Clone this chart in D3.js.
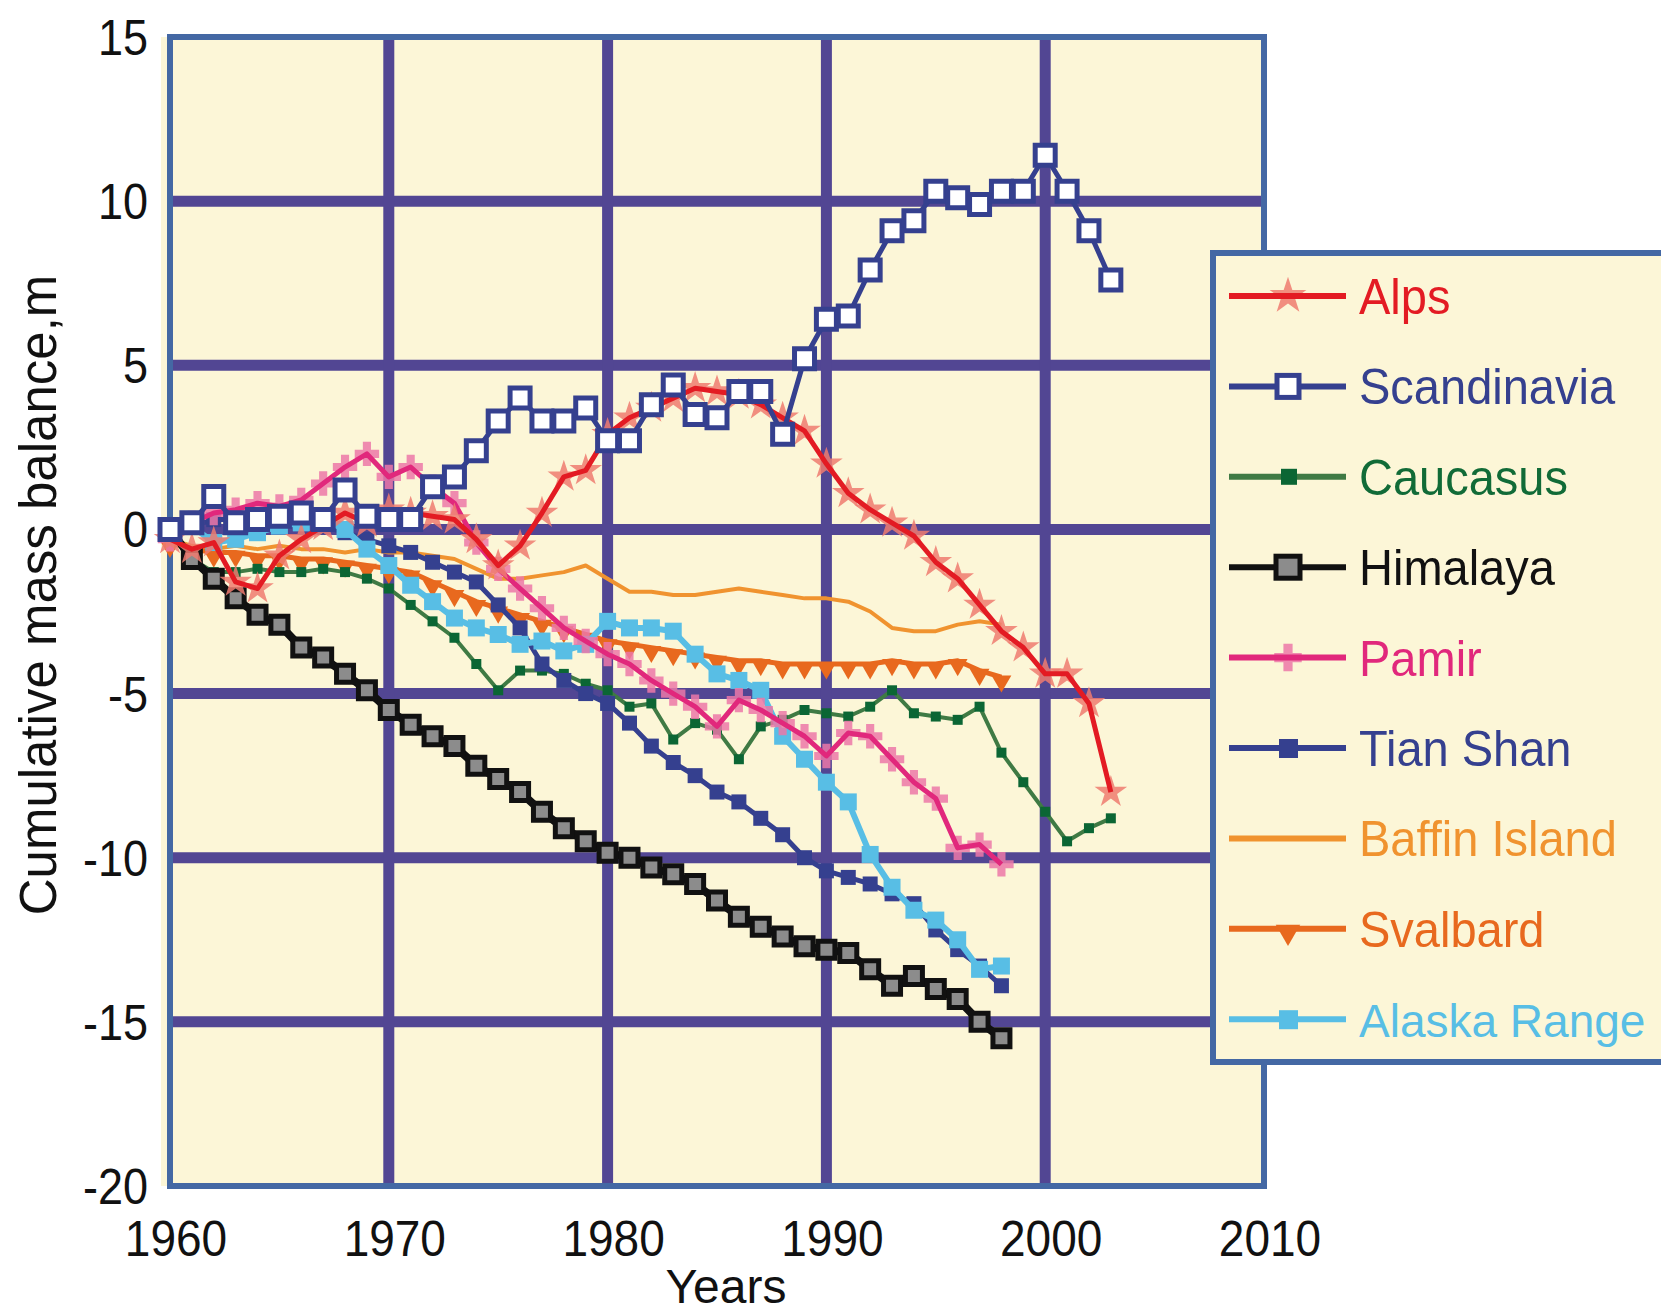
<!DOCTYPE html>
<html>
<head>
<meta charset="utf-8">
<script src="https://cdn.jsdelivr.net/npm/d3@7"></script>
<style>
  html, body { margin: 0; padding: 0; background: #ffffff; }
  svg { display: block; }
  text { font-family: "Liberation Sans", Arial, "DejaVu Sans", sans-serif; }
</style>
</head>
<body>
<svg id="chart" width="1661" height="1316"></svg>
<script>
// ---- data -------------------------------------------------------------
const years = [1960, 1961, 1962, 1963, 1964, 1965, 1966, 1967, 1968, 1969,
               1970, 1971, 1972, 1973, 1974, 1975, 1976, 1977, 1978, 1979,
               1980, 1981, 1982, 1983, 1984, 1985, 1986, 1987, 1988, 1989,
               1990, 1991, 1992, 1993, 1994, 1995, 1996, 1997, 1998, 1999,
               2000, 2001, 2002, 2003];

const xTickValues = [1960, 1970, 1980, 1990, 2000, 2010];
const yTickValues = [-20, -15, -10, -5, 0, 5, 10, 15];

const seriesNames = ["Alps", "Scandinavia", "Caucasus", "Himalaya", "Pamir",
                     "Tian Shan", "Baffin Island", "Svalbard", "Alaska Range"];

// cumulative mass balance, m (1960 onward, one value per year)
const alps = [-0.3, -0.6, -0.4, -1.6, -1.8, -0.8, -0.3, 0.1, 0.5, 0.2,
              0.6, 0.5, 0.4, 0.3, -0.3, -1.1, -0.5, 0.5, 1.6, 1.8,
              2.9, 3.4, 3.7, 4.0, 4.3, 4.2, 4.1, 3.8, 3.4, 3.0,
              2.0, 1.1, 0.6, 0.2, -0.2, -1.0, -1.5, -2.3, -3.1, -3.6,
              -4.4, -4.4, -5.3, -8.0];
const scandinavia = [0.0, 0.2, 1.0, 0.2, 0.3, 0.4, 0.5, 0.3, 1.2, 0.4,
                     0.3, 0.3, 1.3, 1.6, 2.4, 3.3, 4.0, 3.3, 3.3, 3.7,
                     2.7, 2.7, 3.8, 4.4, 3.5, 3.4, 4.2, 4.2, 2.9, 5.2,
                     6.4, 6.5, 7.9, 9.1, 9.4, 10.3, 10.1, 9.9, 10.3, 10.3,
                     11.4, 10.3, 9.1, 7.6];
const caucasus = [0.2, -0.9, -1.3, -1.3, -1.2, -1.3, -1.3, -1.2, -1.3, -1.5,
                  -1.8, -2.3, -2.8, -3.3, -4.1, -4.9, -4.3, -4.3, -4.4, -4.7,
                  -4.9, -5.4, -5.3, -6.4, -5.9, -6.1, -7.0, -6.0, -5.8, -5.5,
                  -5.6, -5.7, -5.4, -4.9, -5.6, -5.7, -5.8, -5.4, -6.8, -7.7,
                  -8.6, -9.5, -9.1, -8.8];
const himalaya = [0.0, -0.9, -1.5, -2.1, -2.6, -2.9, -3.6, -3.9, -4.4, -4.9,
                  -5.5, -5.95, -6.3, -6.6, -7.2, -7.6, -8.0, -8.6, -9.1, -9.5,
                  -9.85, -10.0, -10.3, -10.5, -10.8, -11.3, -11.8, -12.1, -12.4, -12.7,
                  -12.8, -12.9, -13.4, -13.9, -13.6, -14.0, -14.3, -15.0, -15.5];
const pamir = [-0.3, 0.2, 0.5, 0.6, 0.8, 0.7, 0.9, 1.4, 1.9, 2.3,
               1.6, 1.9, 1.3, 0.8, -0.4, -1.2, -1.8, -2.4, -3.0, -3.4,
               -3.8, -4.1, -4.6, -5.0, -5.4, -6.0, -5.2, -5.5, -5.9, -6.3,
               -6.9, -6.2, -6.3, -7.0, -7.7, -8.2, -9.7, -9.6, -10.2];
const tianShan = [0.0, 0.1, 0.3, 0.3, 0.4, 0.3, 0.4, 0.1, -0.1, -0.3,
                  -0.5, -0.7, -1.0, -1.3, -1.6, -2.3, -3.0, -4.1, -4.6, -5.0,
                  -5.3, -5.9, -6.6, -7.1, -7.5, -8.0, -8.3, -8.8, -9.3, -10.0,
                  -10.4, -10.6, -10.8, -11.1, -11.4, -12.2, -12.8, -13.3, -13.9];
const baffinIsland = [-0.3, -0.5, -0.6, -0.5, -0.6, -0.5, -0.6, -0.6, -0.7, -0.6,
                      -0.7, -0.7, -0.8, -0.9, -1.2, -1.5, -1.5, -1.4, -1.3, -1.1,
                      -1.5, -1.9, -1.9, -2.0, -2.0, -1.9, -1.8, -1.9, -2.0, -2.1,
                      -2.1, -2.2, -2.5, -3.0, -3.1, -3.1, -2.9, -2.8, -2.9];
const svalbard = [-0.4, -0.6, -0.7, -0.7, -0.8, -0.8, -0.9, -0.9, -1.0, -1.1,
                  -1.2, -1.3, -1.6, -1.9, -2.2, -2.4, -2.6, -2.8, -3.0, -3.2,
                  -3.4, -3.5, -3.6, -3.7, -3.8, -3.9, -4.0, -4.0, -4.1, -4.1,
                  -4.1, -4.1, -4.1, -4.0, -4.1, -4.1, -4.0, -4.3, -4.5];
const alaskaRange = [0.0, 0.1, -0.4, -0.3, -0.1, 0.1, 0.2, 0.3, 0.0, -0.6,
                     -1.1, -1.7, -2.2, -2.7, -3.0, -3.2, -3.5, -3.4, -3.7, -3.5,
                     -2.8, -3.0, -3.0, -3.1, -3.8, -4.4, -4.6, -4.9, -6.3, -7.0,
                     -7.7, -8.3, -9.9, -10.9, -11.6, -11.9, -12.5, -13.4, -13.3];

// ---- appearance --------------------------------------------------------
const COLORS = {
  page: "#ffffff", plotBg: "#fcf6d7", grid: "#524693", frame: "#4468a4",
  alps: "#e31b23", alpsMark: "#ef7b70",
  scand: "#35408f",
  cauc: "#3f7a44", caucMark: "#0b6634", caucText: "#116b37",
  him: "#111111", himMark: "#8c8c8c",
  pamir: "#e1287c", pamirMark: "#ec78a8",
  tian: "#35408f",
  baffin: "#f0932f",
  sval: "#e8691e",
  alaska: "#58bee5"
};

const plot = { left: 170, right: 1264, top: 37, bottom: 1186 };
const x = d3.scaleLinear().domain([1960, 2010]).range([plot.left, plot.right]);
const y = d3.scaleLinear().domain([-20, 15]).range([plot.bottom, plot.top]);

const svg = d3.select("#chart");

// squeeze a text element horizontally to imitate a condensed face
function condense(sel, factor) {
  sel.each(function () {
    const w = this.getComputedTextLength();
    d3.select(this).attr("textLength", w * factor).attr("lengthAdjust", "spacingAndGlyphs");
  });
}

// ---- plot area ---------------------------------------------------------
svg.append("rect")
  .attr("x", plot.left - 9).attr("y", plot.top)
  .attr("width", plot.right - plot.left + 9).attr("height", plot.bottom - plot.top)
  .attr("fill", COLORS.plotBg);

const grid = svg.append("g").attr("stroke", COLORS.grid).attr("stroke-width", 11);
grid.selectAll("line.h")
  .data(yTickValues.filter(v => v > -20 && v < 15))
  .join("line").attr("class", "h")
  .attr("x1", plot.left).attr("x2", plot.right)
  .attr("y1", d => y(d)).attr("y2", d => y(d));
grid.selectAll("line.v")
  .data(xTickValues.filter(v => v > 1960 && v < 2010))
  .join("line").attr("class", "v")
  .attr("y1", plot.top).attr("y2", plot.bottom)
  .attr("x1", d => x(d)).attr("x2", d => x(d));

svg.append("rect")
  .attr("x", plot.left).attr("y", plot.top)
  .attr("width", plot.right - plot.left).attr("height", plot.bottom - plot.top)
  .attr("fill", "none").attr("stroke", COLORS.frame).attr("stroke-width", 6);

// ---- axes labels -------------------------------------------------------
const yLab = svg.append("g").selectAll("text").data(yTickValues).join("text")
  .attr("x", 148).attr("y", d => y(d) + 18)
  .attr("text-anchor", "end").attr("font-size", 50).attr("fill", "#111")
  .text(d => d);
condense(yLab, 0.9);

const xLab = svg.append("g").selectAll("text").data(xTickValues).join("text")
  .attr("x", d => x(d) + 6).attr("y", 1256)
  .attr("text-anchor", "middle").attr("font-size", 50).attr("fill", "#111")
  .text(d => d);
condense(xLab, 0.92);

svg.append("text")
  .attr("x", 726).attr("y", 1303)
  .attr("text-anchor", "middle").attr("font-size", 48).attr("fill", "#111")
  .text("Years");

svg.append("text")
  .attr("transform", "translate(56,595) rotate(-90)")
  .attr("text-anchor", "middle").attr("font-size", 51).attr("fill", "#111")
  .text("Cumulative mass balance,m");

// ---- series ------------------------------------------------------------
const sq = s => d3.symbol().type(d3.symbolSquare).size(s * s)();
const series = [
  { name: seriesNames[6], values: baffinIsland, color: COLORS.baffin, width: 4, mark: null },
  { name: seriesNames[7], values: svalbard, color: COLORS.sval, width: 5,
    mark: { path: d3.symbol().type(d3.symbolTriangle).size(170)(), rotate: 180, fill: COLORS.sval, dy: 4 } },
  { name: seriesNames[2], values: caucasus, color: COLORS.cauc, width: 4,
    mark: { path: sq(10), fill: COLORS.caucMark } },
  { name: seriesNames[5], values: tianShan, color: COLORS.tian, width: 5,
    mark: { path: sq(15), fill: COLORS.tian } },
  { name: seriesNames[8], values: alaskaRange, color: COLORS.alaska, width: 6,
    mark: { path: sq(17), fill: COLORS.alaska } },
  { name: seriesNames[3], values: himalaya, color: COLORS.him, width: 8,
    mark: { path: sq(17), fill: COLORS.himMark, stroke: COLORS.him, sw: 5 } },
  { name: seriesNames[4], values: pamir, color: COLORS.pamir, width: 5, under: true,
    mark: { path: d3.symbol().type(d3.symbolCross).size(330)(), fill: COLORS.pamirMark, opacity: 0.85 } },
  { name: seriesNames[0], values: alps, color: COLORS.alps, width: 5, under: true,
    mark: { path: d3.symbol().type(d3.symbolStar).size(330)(), fill: COLORS.alpsMark, opacity: 0.85 } },
  { name: seriesNames[1], values: scandinavia, color: COLORS.scand, width: 5,
    mark: { path: sq(20), fill: "#ffffff", stroke: COLORS.scand, sw: 5 } }
];

const line = d3.line().x((d, i) => x(years[i])).y(d => y(d));

function drawMarks(g, s) {
  if (!s.mark) return;
  const m = s.mark;
  g.selectAll("path.mk").data(s.values).join("path").attr("class", "mk")
    .attr("d", m.path)
    .attr("transform", (d, i) => `translate(${x(years[i])},${y(d) + (m.dy || 0)})` + (m.rotate ? ` rotate(${m.rotate})` : ""))
    .attr("fill", m.fill)
    .attr("fill-opacity", m.opacity || 1)
    .attr("stroke", m.stroke || "none")
    .attr("stroke-width", m.sw || 0);
}

series.forEach(s => {
  const g = svg.append("g");
  if (s.under) drawMarks(g, s);
  g.append("path").datum(s.values)
    .attr("d", line).attr("fill", "none")
    .attr("stroke", s.color).attr("stroke-width", s.width)
    .attr("stroke-linejoin", "round");
  if (!s.under) drawMarks(g, s);
});

// ---- legend ------------------------------------------------------------
const legendRows = [
  { name: seriesNames[0], color: COLORS.alps, text: COLORS.alps, mark: "star", fill: COLORS.alpsMark },
  { name: seriesNames[1], color: COLORS.scand, text: COLORS.scand, mark: "open" },
  { name: seriesNames[2], color: COLORS.cauc, text: COLORS.caucText, mark: "small", fill: COLORS.caucMark },
  { name: seriesNames[3], color: COLORS.him, text: COLORS.him, mark: "him" },
  { name: seriesNames[4], color: COLORS.pamir, text: COLORS.pamir, mark: "cross", fill: COLORS.pamirMark },
  { name: seriesNames[5], color: COLORS.tian, text: COLORS.tian, mark: "fill", fill: COLORS.tian },
  { name: seriesNames[6], color: COLORS.baffin, text: COLORS.baffin, mark: null },
  { name: seriesNames[7], color: COLORS.sval, text: COLORS.sval, mark: "tri", fill: COLORS.sval },
  { name: seriesNames[8], color: COLORS.alaska, text: COLORS.alaska, mark: "fill", fill: COLORS.alaska }
];

const legend = svg.append("g");
legend.append("rect")
  .attr("x", 1213).attr("y", 253).attr("width", 480).attr("height", 809)
  .attr("fill", COLORS.plotBg).attr("stroke", COLORS.frame).attr("stroke-width", 6);

const rowY = i => 296 + i * 90.4;
const textLeft = 1359, textRightLimit = 1648;
legendRows.forEach((r, i) => {
  const ly = rowY(i);
  const g = legend.append("g");
  if (r.mark === "star" || r.mark === "cross") {
    g.append("path").attr("d", d3.symbol().type(r.mark === "star" ? d3.symbolStar : d3.symbolCross).size(420)())
      .attr("transform", `translate(1288,${ly})`).attr("fill", r.fill).attr("fill-opacity", 0.85);
  }
  g.append("line").attr("x1", 1229).attr("x2", 1346).attr("y1", ly).attr("y2", ly)
    .attr("stroke", r.color).attr("stroke-width", 6);
  if (r.mark === "open") {
    g.append("rect").attr("x", 1277).attr("y", ly - 11).attr("width", 22).attr("height", 22)
      .attr("fill", "#ffffff").attr("stroke", r.color).attr("stroke-width", 5);
  } else if (r.mark === "small") {
    g.append("rect").attr("x", 1281).attr("y", ly - 8).attr("width", 16).attr("height", 16).attr("fill", r.fill);
  } else if (r.mark === "him") {
    g.append("rect").attr("x", 1276).attr("y", ly - 11).attr("width", 24).attr("height", 22)
      .attr("fill", COLORS.himMark).attr("stroke", COLORS.him).attr("stroke-width", 5);
  } else if (r.mark === "fill") {
    g.append("rect").attr("x", 1279).attr("y", ly - 9).attr("width", 19).attr("height", 19).attr("fill", r.fill);
  } else if (r.mark === "tri") {
    g.append("path").attr("d", d3.symbol().type(d3.symbolTriangle).size(260)())
      .attr("transform", `translate(1288,${ly + 3}) rotate(180)`).attr("fill", r.fill);
  }
  const t = g.append("text").attr("x", textLeft).attr("y", ly + 18)
    .attr("font-size", 50).attr("fill", r.text).text(r.name);
  // a label wider than the room left on the page gets a smaller size instead
  const w = t.node().getComputedTextLength();
  const room = textRightLimit - textLeft;
  if (w > room) {
    t.attr("font-size", Math.floor(50 * room / w));
  } else {
    condense(t, 0.94);
  }
});
</script>
</body>
</html>
